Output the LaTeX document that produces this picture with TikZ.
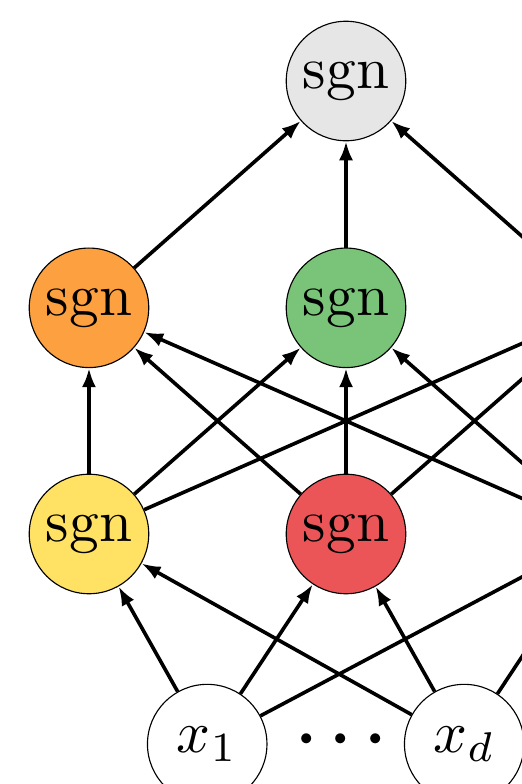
\documentclass[tikz,border=0pt]{standalone}
\usepackage{xcolor}
\usetikzlibrary{arrows.meta}
\definecolor{topgray}{HTML}{E6E6E6}
\definecolor{sgnorange}{HTML}{FDA03F}
\definecolor{sgngreen}{HTML}{79C479}
\definecolor{sgnyellow}{HTML}{FFE264}
\definecolor{sgnred}{HTML}{EC5558}
\newcommand{\unitlabel}[1]{\scalebox{2.63}{#1}}
\begin{document}
\begin{tikzpicture}
\tikzstyle{unit}=[draw, circle, line width=0.5pt, minimum size=1.86cm, inner sep=0pt]
\tikzstyle{link}=[-{Latex[length=8.4pt,width=6.2pt]}, line width=1.6pt]
\useasboundingbox (-1.385,-3.891) rectangle (6.724,8.311);
\node[unit, fill=topgray] (out) at (4,7.05) {\unitlabel{sgn}};
\node[unit, fill=sgnorange] (h21) at (0,3.52) {\unitlabel{sgn}};
\node[unit, fill=sgngreen] (h22) at (4,3.52) {\unitlabel{sgn}};
\coordinate (h23) at (8,3.52);
\node[unit, fill=sgnyellow] (h11) at (0,0) {\unitlabel{sgn}};
\node[unit, fill=sgnred] (h12) at (4,0) {\unitlabel{sgn}};
\coordinate (h13) at (8,0);
\node[unit] (x1) at (1.84,-3.27) {\unitlabel{$x_1$}};
\node[unit] (xd) at (5.84,-3.27) {\unitlabel{$x_d$}};
\node (dots) at (3.927,-3.233) {\scalebox{4.2}{${\cdot}\hspace{0.9pt}{\cdot}\hspace{0.9pt}{\cdot}$}};
%%%%%%%%%%%%%
\draw[link] (h21) -- (out);
\draw[link] (h22) -- (out);
\draw[link] (h23) -- (out);
%%%%%%%%%%%%%
\draw[link] (h11) -- (h21);
\draw[link] (h11) -- (h22);
\draw[link] (h11) -- (h23);
\draw[link] (h12) -- (h21);
\draw[link] (h12) -- (h22);
\draw[link] (h12) -- (h23);
\draw[link] (h13) -- (h21);
\draw[link] (h13) -- (h22);
%%%%%%%%%%%%%
\draw[link] (x1) -- (h11);
\draw[link] (x1) -- (h12);
\draw[link] (x1) -- (h13);
\draw[link] (xd) -- (h11);
\draw[link] (xd) -- (h12);
\draw[link] (xd) -- (h13);
\end{tikzpicture}
\end{document}
